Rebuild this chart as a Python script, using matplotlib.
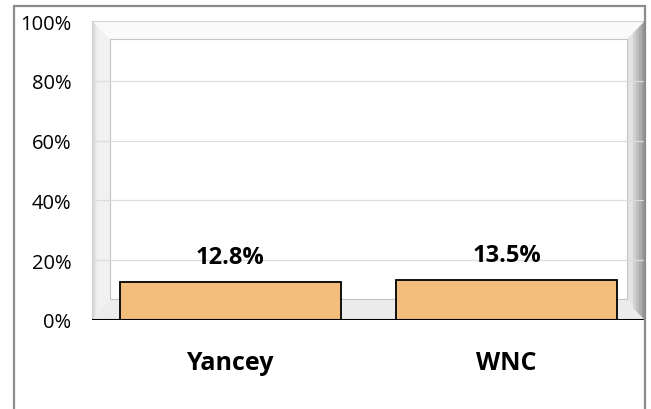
import numpy as np
import matplotlib.pyplot as plt
from matplotlib.patches import Rectangle, Polygon
from matplotlib.ticker import PercentFormatter

# data
categories = ['Yancey', 'WNC']
values = [0.128, 0.135]
value_labels = ['12.8%', '13.5%']
yticks = [0, 0.2, 0.4, 0.6, 0.8, 1.0]

plt.rcParams['font.family'] = ['Open Sans', 'DejaVu Sans']

W, H = 651, 410
fig = plt.figure(figsize=(W / 100, H / 100), dpi=100)

# axes box in pixels: x 92..645, y 22..321
ax = fig.add_axes([92 / W, (H - 321) / H, 553 / W, 299 / H])

# outer chart border
fig.patches.append(Rectangle((14 / W, -0.05), 631 / W, 1.05 - 7 / H,
                             transform=fig.transFigure, fill=False,
                             edgecolor='#8c8c8c', linewidth=1.6, zorder=0))

def px(x, y):
    return ((x - 92) / 553, (321 - y) / 299)

# bevelled frame around plot area
walls = [
    ([(92, 22), (110, 40), (110, 300), (92, 321)], '#f1f1f1'),   # left
    ([(92, 22), (645, 22), (627, 40), (110, 40)], '#fafafa'),    # top
    ([(627, 40), (645, 22), (645, 321), (627, 300)], '#e4e4e4'),  # right
    ([(92, 321), (110, 300), (627, 300), (645, 321)], '#ececec'),  # floor
]
for pts, c in walls:
    ax.add_patch(Polygon([px(*p) for p in pts], closed=True, facecolor=c,
                         edgecolor='none', transform=ax.transAxes, zorder=0))
# shading on left wall edge and right wall
for i, c in enumerate(['#d6d6d6', '#e2e2e2', '#ececec']):
    x0 = 92 + i * 2
    ax.add_patch(Polygon([px(x0, 22 + i * 2), px(x0 + 2, 24 + i * 2),
                          px(x0 + 2, 319 - i * 2), px(x0, 321 - i * 2)],
                         facecolor=c, edgecolor='none',
                         transform=ax.transAxes, zorder=0))
for i, c in enumerate(['#9a9a9a', '#acacac', '#bebebe', '#d0d0d0']):
    x0 = 642 - i * 3
    ax.add_patch(Polygon([px(x0, 25 + i * 3), px(x0 + 3, 22 + i * 3),
                          px(x0 + 3, 321 - i * 3), px(x0, 318 - i * 3)],
                         facecolor=c, edgecolor='none',
                         transform=ax.transAxes, zorder=0))
# inner back wall outline
ax.add_patch(Polygon([px(110, 40), px(627, 40), px(627, 300), px(110, 300)],
                     closed=True, facecolor='white', edgecolor='#c4c4c4',
                     linewidth=0.8, transform=ax.transAxes, zorder=0))
# outer frame line
ax.add_patch(Rectangle((0, 0), 1, 1, transform=ax.transAxes, fill=False,
                       edgecolor='#d0d0d0', linewidth=0.8, zorder=0))

# gridlines
for t in yticks[1:-1]:
    ax.axhline(t, color='#dcdcdc', linewidth=0.9, zorder=1)

x = np.arange(len(categories))
bars = ax.bar(x, values, width=0.8, color='#f3be7c', edgecolor='black',
              linewidth=1.3, zorder=3)
ax.axhline(0, color='black', linewidth=1.5, zorder=4)

for b, lab in zip(bars, value_labels):
    ax.annotate(lab, (b.get_x() + b.get_width() / 2, b.get_height()),
                xytext=(0, 18), textcoords='offset points', ha='center',
                va='center', fontsize=17, fontweight='bold')

ax.set_xlim(-0.5, 1.5)
ax.set_ylim(0, 1)
ax.set_yticks(yticks)
ax.yaxis.set_major_formatter(PercentFormatter(1.0, decimals=0))
ax.set_xticks(x)
ax.set_xticklabels(categories, fontsize=18, fontweight='bold')
ax.tick_params(axis='x', length=0, pad=21.5)
ax.tick_params(axis='y', length=0, pad=15, labelsize=14.5)
for s in ax.spines.values():
    s.set_visible(False)

fig.savefig('out.png', dpi=100)
